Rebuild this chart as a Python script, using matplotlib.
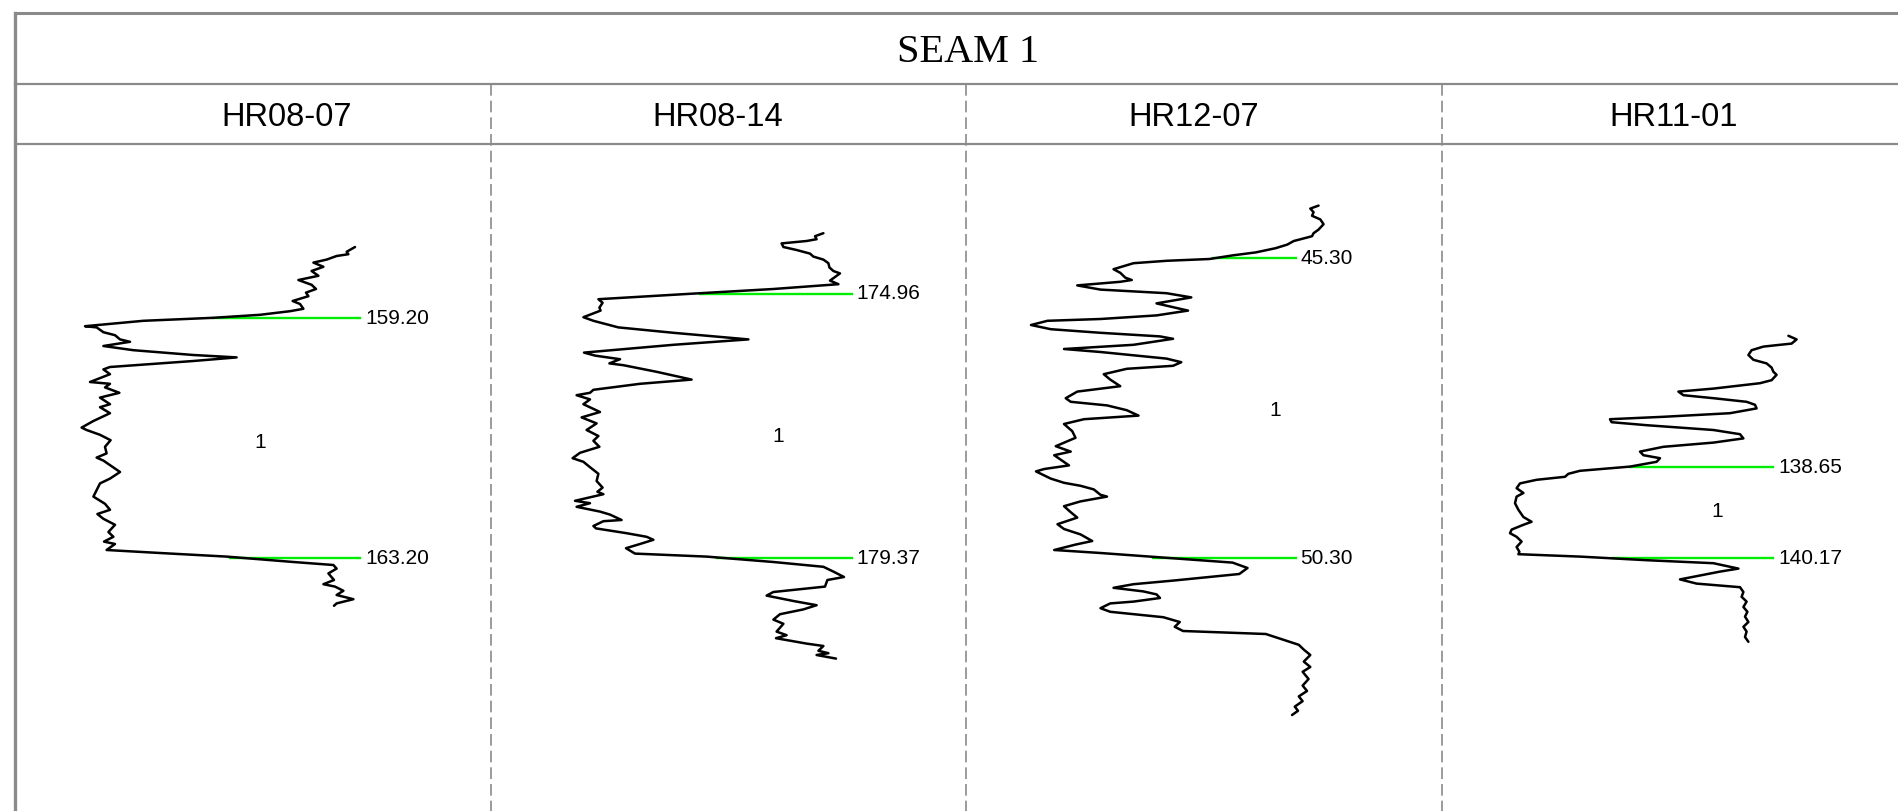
import matplotlib
matplotlib.use("Agg")
import matplotlib.pyplot as plt

# ---------- data ----------
WELLS = ["HR08-07", "HR08-14", "HR12-07", "HR11-01"]
SEAM_NAME = "SEAM 1"
SEAM_LABEL = "1"

TOPS = [159.20, 174.96, 45.30, 138.65]
BASES = [163.20, 179.37, 50.30, 140.17]

# gamma-ray style curves, depth (m) and value (API)
hr0807_depth = [158.01, 158.09, 158.13, 158.16, 158.22, 158.27, 158.34, 158.41, 158.49, 158.56,
                158.64, 158.71, 158.77, 158.83, 158.91, 158.96, 159.04, 159.08, 159.14, 159.19,
                159.24, 159.33, 159.35, 159.43, 159.48, 159.55, 159.59, 159.66, 159.73, 159.81,
                159.85, 159.91, 160.01, 160.05, 160.13, 160.26, 160.29, 160.35, 160.44, 160.52,
                160.63, 160.68, 160.78, 160.91, 161.02, 161.06, 161.14, 161.23, 161.34, 161.45,
                161.52, 161.57, 161.76, 161.87, 161.95, 162.17, 162.29, 162.39, 162.46, 162.54,
                162.64, 162.76, 162.84, 162.92, 162.96, 163.06, 163.11, 163.17, 163.26, 163.31,
                163.37, 163.45, 163.56, 163.63, 163.67, 163.74, 163.81, 163.88, 163.95, 163.99]
hr0807_gr = [170.0, 165.8, 166.7, 160.8, 155.8, 149.2, 154.2, 148.3, 151.7, 141.7,
             148.3, 150.5, 145.5, 146.7, 138.8, 142.5, 144.2, 137.5, 122.5, 99.2,
             64.2, 35.0, 40.8, 44.2, 50.0, 52.5, 57.5, 44.2, 59.2, 89.2,
             110.8, 89.2, 47.5, 44.2, 47.5, 37.5, 47.5, 45.0, 52.2, 42.5,
             47.5, 42.5, 47.5, 39.2, 33.3, 35.8, 42.5, 47.8, 45.0, 45.8,
             40.8, 44.2, 52.5, 47.5, 42.5, 39.2, 45.0, 47.5, 41.2, 44.2,
             50.0, 46.7, 49.2, 44.5, 50.0, 45.8, 72.5, 105.8, 139.2, 159.2,
             160.8, 156.7, 159.5, 154.2, 160.0, 164.2, 160.8, 169.2, 160.8, 159.5]

hr0814_depth = [173.95, 174.00, 174.05, 174.08, 174.12, 174.18, 174.23, 174.29, 174.34, 174.39,
                174.45, 174.52, 174.58, 174.62, 174.68, 174.74, 174.80, 174.88, 174.96, 175.05,
                175.11, 175.19, 175.24, 175.35, 175.41, 175.52, 175.61, 175.72, 175.81, 175.94,
                175.99, 176.05, 176.12, 176.15, 176.26, 176.39, 176.46, 176.56, 176.61, 176.65,
                176.72, 176.80, 176.93, 177.02, 177.12, 177.23, 177.33, 177.41, 177.51, 177.61,
                177.70, 177.76, 177.85, 177.96, 178.08, 178.19, 178.26, 178.30, 178.41, 178.45,
                178.51, 178.59, 178.64, 178.73, 178.75, 178.83, 178.87, 178.95, 179.01, 179.06,
                179.13, 179.20, 179.29, 179.34, 179.43, 179.51, 179.59, 179.68, 179.73, 179.84,
                179.93, 179.99, 180.08, 180.15, 180.22, 180.30, 180.39, 180.46, 180.59, 180.65,
                180.70, 180.79, 180.83, 180.91, 180.95, 180.98, 181.04]
hr0814_gr = [166.2, 162.0, 162.8, 157.8, 145.3, 146.2, 152.8, 159.5, 161.2, 166.2,
             168.7, 169.2, 171.2, 174.5, 172.0, 169.5, 173.7, 141.2, 99.5, 53.7,
             55.8, 54.2, 54.8, 46.2, 51.2, 63.7, 91.2, 128.7, 91.2, 46.5,
             52.0, 64.5, 59.2, 66.2, 82.8, 100.3, 74.5, 51.2, 49.5, 42.8,
             49.5, 46.2, 54.5, 45.3, 52.8, 47.8, 53.7, 51.2, 54.2, 44.5,
             40.8, 46.2, 49.5, 53.7, 52.8, 55.8, 53.2, 56.2, 42.0, 49.5,
             42.8, 54.5, 59.5, 65.3, 56.2, 51.2, 52.5, 67.8, 77.8, 81.2,
             74.5, 67.5, 72.0, 107.8, 141.2, 166.2, 171.2, 176.5, 168.2, 167.0,
             141.2, 137.8, 151.2, 162.8, 156.2, 144.5, 141.2, 146.2, 142.8, 147.8,
             142.5, 157.8, 166.2, 163.7, 168.7, 162.8, 172.5]

hr1207_depth = [44.42, 44.47, 44.53, 44.59, 44.65, 44.73, 44.82, 44.88, 44.93, 44.96,
                45.01, 45.07, 45.13, 45.20, 45.25, 45.31, 45.34, 45.38, 45.48, 45.54,
                45.62, 45.66, 45.69, 45.75, 45.82, 45.88, 45.95, 46.05, 46.17, 46.25,
                46.31, 46.34, 46.41, 46.48, 46.54, 46.60, 46.64, 46.74, 46.81, 46.86,
                46.97, 47.03, 47.09, 47.14, 47.23, 47.32, 47.43, 47.52, 47.63, 47.69,
                47.75, 47.83, 47.92, 47.98, 48.06, 48.18, 48.29, 48.43, 48.52, 48.58,
                48.75, 48.81, 48.85, 48.97, 49.04, 49.09, 49.15, 49.24, 49.27, 49.35,
                49.43, 49.53, 49.62, 49.73, 49.81, 49.90, 50.01, 50.07, 50.16, 50.21,
                50.29, 50.37, 50.46, 50.56, 50.67, 50.73, 50.79, 50.85, 50.90, 50.96,
                51.02, 51.05, 51.13, 51.19, 51.28, 51.36, 51.44, 51.51, 51.56, 51.65,
                51.74, 51.82, 51.91, 52.02, 52.11, 52.19, 52.31, 52.42, 52.51, 52.60,
                52.68, 52.77, 52.84, 52.91]
hr1207_gr = [182.3, 178.0, 179.7, 178.9, 183.2, 184.9, 182.3, 179.7, 178.9, 175.4,
             169.4, 166.0, 159.9, 149.6, 137.5, 125.5, 103.1, 85.9, 75.5, 79.0,
             81.6, 85.0, 79.0, 56.6, 68.7, 103.1, 116.0, 97.9, 114.3, 97.9,
             68.7, 41.1, 32.5, 42.8, 68.7, 99.7, 106.5, 85.9, 49.7, 68.7,
             103.1, 110.8, 106.5, 82.4, 70.4, 73.8, 79.0, 56.6, 50.6, 53.2,
             72.1, 82.4, 88.5, 60.1, 49.7, 54.0, 55.7, 45.4, 53.2, 44.6,
             52.3, 39.4, 35.1, 42.8, 49.7, 58.3, 65.2, 68.7, 72.1, 58.3,
             49.7, 53.2, 56.6, 46.3, 49.7, 58.3, 64.4, 55.7, 44.6, 68.7,
             103.1, 137.5, 145.3, 141.0, 106.5, 85.9, 75.5, 91.0, 97.9, 99.7,
             85.9, 73.8, 68.7, 73.8, 101.4, 110.0, 107.4, 111.7, 154.8, 163.4,
             172.0, 174.6, 178.0, 174.6, 178.0, 174.0, 177.1, 174.0, 176.3, 172.0,
             174.0, 169.9, 171.6, 168.5]

hr1101_depth = [136.46, 136.52, 136.59, 136.61, 136.64, 136.70, 136.78, 136.86, 136.92, 136.99,
                137.06, 137.11, 137.20, 137.25, 137.34, 137.39, 137.45, 137.50, 137.56, 137.61,
                137.67, 137.75, 137.81, 137.85, 137.90, 137.95, 138.03, 138.10, 138.17, 138.24,
                138.31, 138.39, 138.45, 138.50, 138.56, 138.64, 138.71, 138.76, 138.81, 138.86,
                138.92, 139.00, 139.08, 139.14, 139.25, 139.36, 139.48, 139.56, 139.61, 139.69,
                139.75, 139.81, 139.89, 139.98, 140.06, 140.10, 140.14, 140.20, 140.25, 140.34,
                140.39, 140.52, 140.59, 140.65, 140.73, 140.81, 140.89, 140.98, 141.06, 141.14,
                141.23, 141.31, 141.39, 141.48, 141.56]
hr1101_gr = [173.2, 177.3, 174.8, 169.0, 160.7, 154.8, 153.2, 155.7, 162.3, 164.8,
             165.7, 167.3, 164.8, 159.0, 135.7, 118.2, 120.7, 135.7, 152.3, 156.5,
             157.3, 144.0, 110.7, 84.0, 84.8, 102.3, 135.7, 149.0, 150.7, 135.7,
             110.7, 99.0, 100.7, 109.0, 107.3, 94.0, 69.0, 63.2, 61.5, 47.3,
             39.0, 37.3, 40.7, 37.3, 36.5, 38.2, 40.7, 44.8, 40.7, 34.8,
             34.0, 37.3, 39.8, 37.3, 38.7, 38.2, 69.0, 102.3, 135.7, 148.2,
             139.0, 119.0, 127.3, 149.0, 150.7, 149.8, 152.3, 150.7, 152.7, 151.5,
             153.2, 150.7, 152.3, 151.5, 153.2]

DEPTHS = [hr0807_depth, hr0814_depth, hr1207_depth, hr1101_depth]
CURVES = [hr0807_gr, hr0814_gr, hr1207_gr, hr1101_gr]

# pick lines (API range) and seam label positions
TOP_FROM = [99.2, 104.5, 127.2, 94.0]
BASE_FROM = [107.5, 112.8, 96.2, 85.7]
PICK_TO = [172.5, 180.3, 170.3, 165.7]
LABEL_X = [122.5, 143.7, 159.9, 137.7]
LABEL_D = [161.26, 177.34, 47.83, 139.39]

# track scale per well (API)
TRACK_XLIM = [(0, 238), (0, 238), (-1.35, 246.6), (0, 238)]

# ---------- layout (pixels) ----------
W, H = 1898, 811
LEFT, TOP_Y = 15, 12.5
TITLE_LINE, HEAD_LINE = 84, 144
COL_X = [15, 491, 966, 1442]
COL_W = 476
HEAD_X = [287, 718, 1194, 1674]
BASE_Y = 558.4
PX_PER_M = 60.0
FRAME = "#8a8a8a"
GREEN = "#00ee00"

fig = plt.figure(figsize=(W / 100, H / 100), dpi=100)
bg = fig.add_axes([0, 0, 1, 1])
bg.set_xlim(0, W)
bg.set_ylim(H, 0)
bg.axis("off")

# table frame
bg.plot([LEFT, W], [TOP_Y, TOP_Y], color=FRAME, lw=2.2)
bg.plot([LEFT, LEFT], [TOP_Y, H], color=FRAME, lw=2.4)
bg.plot([LEFT, W], [TITLE_LINE, TITLE_LINE], color=FRAME, lw=1.6)
bg.plot([LEFT, W], [HEAD_LINE, HEAD_LINE], color=FRAME, lw=1.6)
for x in COL_X[1:]:
    bg.plot([x, x], [TITLE_LINE, H], color=FRAME, lw=1.2, linestyle=(0, (7, 3)))

bg.text(968, 52.5, SEAM_NAME, ha="center", va="center", fontsize=29,
        family="Liberation Serif")
for name, hx in zip(WELLS, HEAD_X):
    bg.text(hx, 118, name, ha="center", va="center", fontsize=23.5,
            family="Liberation Sans")

# well tracks
for i, name in enumerate(WELLS):
    ax = fig.add_axes([COL_X[i] / W, 0, COL_W / W, (H - HEAD_LINE) / H])
    ax.patch.set_alpha(0)
    ax.axis("off")
    base = BASES[i]
    ax.set_xlim(*TRACK_XLIM[i])
    ax.set_ylim(base + (H - BASE_Y) / PX_PER_M, base - (BASE_Y - HEAD_LINE) / PX_PER_M)

    ax.plot([TOP_FROM[i], PICK_TO[i]], [TOPS[i], TOPS[i]], color=GREEN, lw=1.7, zorder=1)
    ax.plot([BASE_FROM[i], PICK_TO[i]], [BASES[i], BASES[i]], color=GREEN, lw=1.7, zorder=1)
    ax.plot(CURVES[i], DEPTHS[i], color="black", lw=1.8, zorder=2,
            solid_joinstyle="round", solid_capstyle="round")

    for d in (TOPS[i], BASES[i]):
        ax.text(PICK_TO[i] + 2.5, d, f"{d:.2f}", ha="left", va="center",
                fontsize=15, family="Liberation Sans")
    ax.text(LABEL_X[i], LABEL_D[i], SEAM_LABEL, ha="center", va="center",
            fontsize=15, family="Liberation Sans")

fig.savefig("out.png", dpi=100)
